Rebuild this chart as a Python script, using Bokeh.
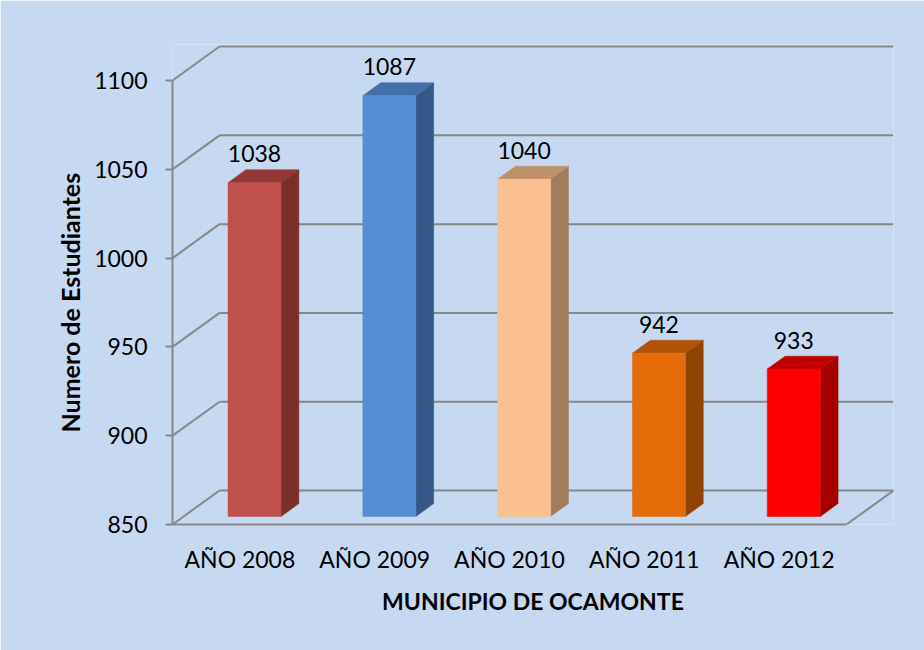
import numpy as np
from bokeh.plotting import figure
from bokeh.models import Range1d, FixedTicker, ColumnDataSource, Title
from bokeh.core.properties import value
from bokeh.embed import file_html
from bokeh.resources import INLINE

# ---- data ----
categories = ["AÑO 2008", "AÑO 2009", "AÑO 2010", "AÑO 2011", "AÑO 2012"]
students = [1038, 1087, 1040, 942, 933]
front_colors = ["#C0504D", "#558ED5", "#FAC090", "#E46C0A", "#FF0000"]
top_colors = ["#953735", "#4270A8", "#BE8F6B", "#AE5308", "#C00000"]
side_colors = ["#7B2F2D", "#345987", "#A07D5F", "#8F4405", "#A50000"]
y_ticks = [850, 900, 950, 1000, 1050, 1100]

# ---- 3D geometry (style constants) ----
BASE = 850
Y_END = 1120.3
DX = 0.3487   # depth shift, category units
DY = 19.14    # depth shift, value units
FD = 0.235    # depth of bar front face
BD = 0.615    # depth of bar back face
BAR_A = 0.33  # bar offset within slot
BAR_W = 0.393 # bar width
LABEL_GAP = 9.0
GRID = "#878787"
BG = "#C6D9F1"
FONT = "Lato"

W, H = 924, 650
ML, MT, MR, MB = 172, 44, 31, 126

n = len(categories)
p = figure(width=W, height=H,
           x_range=Range1d(-0.5, n - 0.5 + DX), y_range=Range1d(BASE, Y_END),
           output_backend="svg", toolbar_location=None,
           min_border_left=ML, min_border_top=MT, min_border_right=MR, min_border_bottom=MB)
p.background_fill_color = BG
p.border_fill_color = BG
p.outline_line_color = None
p.xgrid.visible = False
p.ygrid.visible = False

# back wall gridlines and left diagonals
yt = np.array(y_ticks, dtype=float)
p.segment(x0=[-0.5 + DX] * len(yt), y0=yt + DY, x1=[n - 0.5 + DX] * len(yt), y1=yt + DY,
          line_color=GRID, line_width=2)
p.segment(x0=[-0.5] * len(yt), y0=yt, x1=[-0.5 + DX] * len(yt), y1=yt + DY,
          line_color=GRID, line_width=2)
# floor right edge
p.segment(x0=[n - 0.5], y0=[BASE], x1=[n - 0.5 + DX], y1=[BASE + DY],
          line_color=GRID, line_width=2)

# bars
idx = np.arange(n)
vals = np.array(students, dtype=float)
Lf = idx - 0.5 + BAR_A + FD * DX
Rf = Lf + BAR_W
Bf = BASE + FD * DY
Tf = vals + FD * DY
ddx = (BD - FD) * DX
ddy = (BD - FD) * DY

side_xs = [[Rf[i], Rf[i], Rf[i] + ddx, Rf[i] + ddx] for i in range(n)]
side_ys = [[Bf, Tf[i], Tf[i] + ddy, Bf + ddy] for i in range(n)]
top_xs = [[Lf[i], Rf[i], Rf[i] + ddx, Lf[i] + ddx] for i in range(n)]
top_ys = [[Tf[i], Tf[i], Tf[i] + ddy, Tf[i] + ddy] for i in range(n)]

p.patches(xs=side_xs, ys=side_ys, fill_color=side_colors, line_color=side_colors, line_width=0.5)
p.patches(xs=top_xs, ys=top_ys, fill_color=top_colors, line_color=top_colors, line_width=0.5)
p.quad(left=Lf, right=Rf, bottom=[Bf] * n, top=Tf, fill_color=front_colors,
       line_color=front_colors, line_width=0.5)

# data labels
lab = ColumnDataSource(dict(x=(Lf + Rf) / 2, y=vals + BD * DY + LABEL_GAP,
                            t=[str(v) for v in students]))
p.text(x="x", y="y", text="t", source=lab, text_align="center", text_baseline="alphabetic",
       text_font=value(FONT), text_font_size="23px", text_color="#000000")

# axes
p.xaxis.bounds = (-0.5, n - 0.5)
p.xaxis.ticker = FixedTicker(ticks=list(range(n)))
p.xaxis.major_label_overrides = {i: c for i, c in enumerate(categories)}
p.xaxis.major_tick_out = 0
p.xaxis.major_tick_in = 0
p.xaxis.minor_tick_line_color = None
p.xaxis.axis_line_color = GRID
p.xaxis.axis_line_width = 2
p.xaxis.major_label_standoff = 20
p.xaxis.major_label_text_font = FONT
p.xaxis.major_label_text_font_size = "23px"
p.xaxis.major_label_text_color = "#000000"
p.xaxis.axis_label = "MUNICIPIO DE OCAMONTE"
p.xaxis.axis_label_text_font = FONT
p.xaxis.axis_label_text_font_style = "bold"
p.xaxis.axis_label_text_font_size = "23px"
p.xaxis.axis_label_text_color = "#000000"
p.xaxis.axis_label_standoff = 11

p.yaxis.bounds = (BASE, 1100)
p.yaxis.ticker = FixedTicker(ticks=y_ticks)
p.yaxis.major_tick_out = 7
p.yaxis.major_tick_in = 0
p.yaxis.major_tick_line_color = GRID
p.yaxis.major_tick_line_width = 2
p.yaxis.minor_tick_line_color = None
p.yaxis.axis_line_color = GRID
p.yaxis.axis_line_width = 2
p.yaxis.major_label_standoff = 18
p.yaxis.major_label_text_font = FONT
p.yaxis.major_label_text_font_size = "23px"
p.yaxis.major_label_text_color = "#000000"

# y-axis title (as a side title so it can be offset along the axis)
p.add_layout(Title(text="Numero de Estudiantes", align="left", offset=92, standoff=14,
                   text_font=FONT, text_font_style="bold", text_font_size="25px",
                   text_color="#000000"), "left")

open("out.html", "w").write(file_html(p, INLINE))
